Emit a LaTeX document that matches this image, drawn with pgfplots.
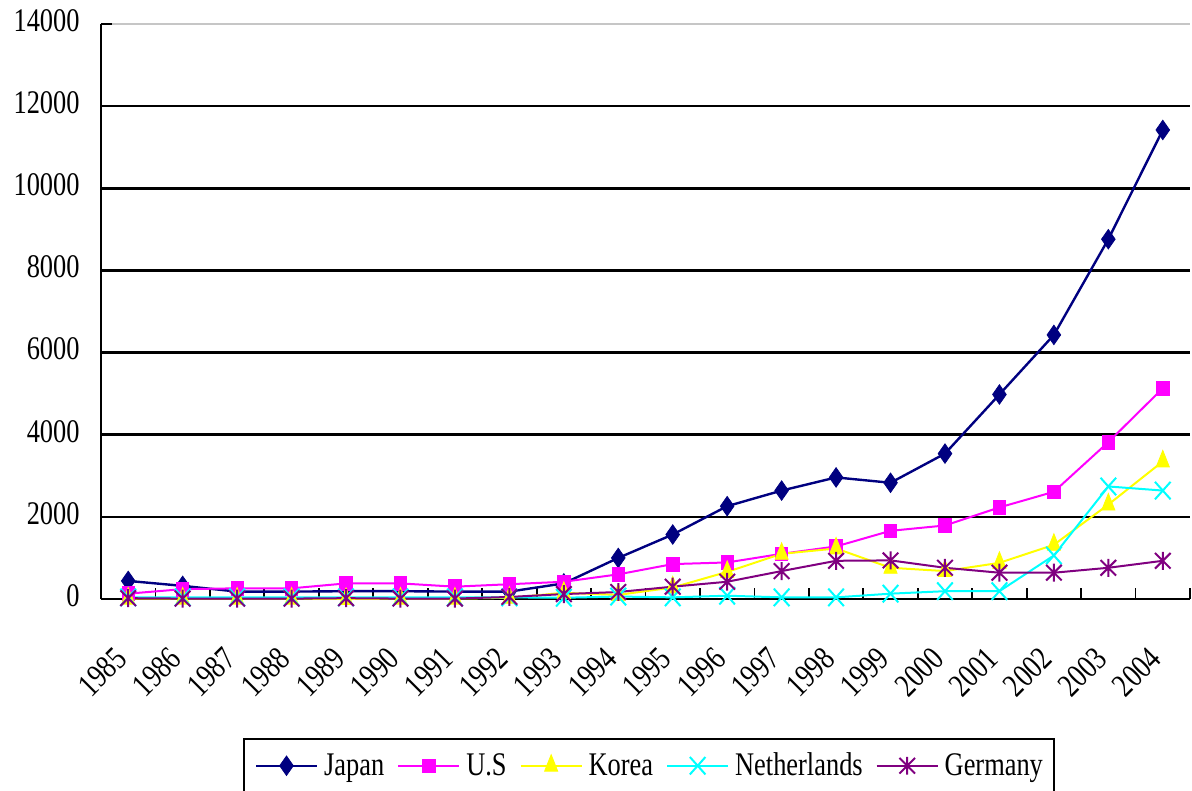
\documentclass[border=0pt]{standalone}
\usepackage{pgfplots}
\usepackage{pgfplotstable}
\pgfplotsset{compat=1.18}
\usepackage{fontspec}
\setmainfont{Liberation Serif}

\definecolor{cjp}{RGB}{0,0,128}
\definecolor{cus}{RGB}{255,0,255}
\definecolor{ckr}{RGB}{255,255,0}
\definecolor{cnl}{RGB}{0,255,255}
\definecolor{cde}{RGB}{128,0,128}

% text in this chart is set slightly taller than wide
\newcommand{\tall}[1]{\scalebox{1}[1.25]{#1}}

% tall filled diamond
\pgfdeclareplotmark{tdiamond}{%
  \pgfpathmoveto{\pgfqpoint{0pt}{1.43\pgfplotmarksize}}%
  \pgfpathlineto{\pgfqpoint{\pgfplotmarksize}{0pt}}%
  \pgfpathlineto{\pgfqpoint{0pt}{-1.43\pgfplotmarksize}}%
  \pgfpathlineto{\pgfqpoint{-\pgfplotmarksize}{0pt}}%
  \pgfpathclose
  \pgfusepathqfillstroke}
% cross
\pgfdeclareplotmark{xcross}{%
  \pgfpathmoveto{\pgfqpoint{-\pgfplotmarksize}{-\pgfplotmarksize}}%
  \pgfpathlineto{\pgfqpoint{\pgfplotmarksize}{\pgfplotmarksize}}%
  \pgfpathmoveto{\pgfqpoint{-\pgfplotmarksize}{\pgfplotmarksize}}%
  \pgfpathlineto{\pgfqpoint{\pgfplotmarksize}{-\pgfplotmarksize}}%
  \pgfusepathqstroke}
% cross with a vertical bar
\pgfdeclareplotmark{xstar}{%
  \pgfpathmoveto{\pgfqpoint{-\pgfplotmarksize}{-\pgfplotmarksize}}%
  \pgfpathlineto{\pgfqpoint{\pgfplotmarksize}{\pgfplotmarksize}}%
  \pgfpathmoveto{\pgfqpoint{-\pgfplotmarksize}{\pgfplotmarksize}}%
  \pgfpathlineto{\pgfqpoint{\pgfplotmarksize}{-\pgfplotmarksize}}%
  \pgfpathmoveto{\pgfqpoint{0pt}{-1.15\pgfplotmarksize}}%
  \pgfpathlineto{\pgfqpoint{0pt}{1.15\pgfplotmarksize}}%
  \pgfusepathqstroke}

% year index (0 = 1985), Japan, U.S, Korea, Netherlands, Germany
\pgfplotstableread{
x   jp     us    kr    nl    de
0   440    130   10    40    20
1   320    240   10    40    10
2   180    260   10    40    10
3   180    260   10    40    10
4   190    380   0     40    20
5   190    380   10    40    10
6   180    300   10    40    10
7   180    360   30    40    50
8   380    420   150   30    120
9   1000   600   100   60    170
10  1570   850   280   40    300
11  2260   890   660   80    420
12  2640   1100  1100  40    680
13  2960   1280  1230  40    930
14  2830   1660  760   130   940
15  3540   1790  680   190   760
16  4980   2230  880   190   640
17  6430   2610  1320  1060  640
18  8760   3820  2300  2740  760
19  11420  5130  3350  2640  930
}\datatable

\begin{document}
\begin{tikzpicture}
\begin{axis}[
  scale only axis,
  width=544.5pt, height=287.5pt,
  xmin=-0.5, xmax=19.5, ymin=0, ymax=14000,
  axis x line*=bottom, axis y line*=left,
  axis line style={line width=1.4pt},
  clip=false,
  xtick={-0.5,0.5,...,19.5},
  x tick label as interval,
  xticklabels={\tall{1985},\tall{1986},\tall{1987},\tall{1988},\tall{1989},
    \tall{1990},\tall{1991},\tall{1992},\tall{1993},\tall{1994},\tall{1995},
    \tall{1996},\tall{1997},\tall{1998},\tall{1999},\tall{2000},\tall{2001},
    \tall{2002},\tall{2003},\tall{2004}},
  ytick={0,2000,...,12000},
  extra y ticks={14000},
  extra y tick style={grid style={gray!45, line width=0.8pt}},
  ymajorgrids,
  grid style={black, line width=1.3pt},
  tick align=inside,
  major tick length=5.5pt,
  tick style={black, line width=0.9pt},
  scaled y ticks=false,
  yticklabel={\tall{\pgfmathprintnumber[fixed,precision=0,1000 sep={},assume math mode=true]{\tick}}},
  tick label style={font=\fontsize{13.2}{15}\selectfont},
  yticklabel style={anchor=east, inner sep=0pt, yshift=1.75pt},
  yticklabel shift=10.5pt,
  xticklabel style={xshift=-3.5pt, yshift=-1pt, rotate=45, anchor=east, inner sep=0pt},
  xticklabel shift=26pt,
  legend columns=5,
  legend style={
    at={(0.1304,-0.2417)}, anchor=north west,
    draw=black, line width=0.8pt,
    inner xsep=5.5pt, inner ysep=7pt,
    font=\fontsize{13.2}{15}\selectfont,
    nodes={inner sep=0pt},
    /tikz/every odd column/.style={column sep=3pt},
    /tikz/every even column/.style={column sep=6.5pt},
  },
  legend cell align=left,
  legend image code/.code={%
    \draw[mark repeat=2,mark phase=2,#1]
      plot coordinates {(0pt,0pt) (15.25pt,0pt) (30.5pt,0pt)};},
]
\addplot[color=cjp, line width=1.2pt, mark=tdiamond, mark size=3.4pt,
  mark options={solid, fill=cjp, line width=0.4pt}]
  table[x=x, y=jp] {\datatable};
\addlegendentry{\tall{Japan}}
\addplot[color=cus, line width=1pt, mark=square*, mark size=3.1pt,
  mark options={solid, fill=cus, line width=0.4pt, yscale=1.1}]
  table[x=x, y=us] {\datatable};
\addlegendentry{\tall{U.S}}
\addplot[color=ckr, line width=1pt, mark=triangle*, mark size=3.8pt,
  mark options={solid, fill=ckr, line width=0.4pt, yscale=1.45}]
  table[x=x, y=kr] {\datatable};
\addlegendentry{\tall{Korea}}
\addplot[color=cnl, line width=1pt, mark=xcross, mark size=3.9pt,
  mark options={solid, line width=1pt, yscale=1.12}]
  table[x=x, y=nl] {\datatable};
\addlegendentry{\tall{Netherlands}}
\addplot[color=cde, line width=1pt, mark=xstar, mark size=3.9pt,
  mark options={solid, line width=1pt}]
  table[x=x, y=de] {\datatable};
\addlegendentry{\tall{Germany}}
\end{axis}
\pgfresetboundingbox
\path (current axis.south west) ++(-50.5pt,-96pt) rectangle ++(596pt,395.5pt);
\end{tikzpicture}
\end{document}
